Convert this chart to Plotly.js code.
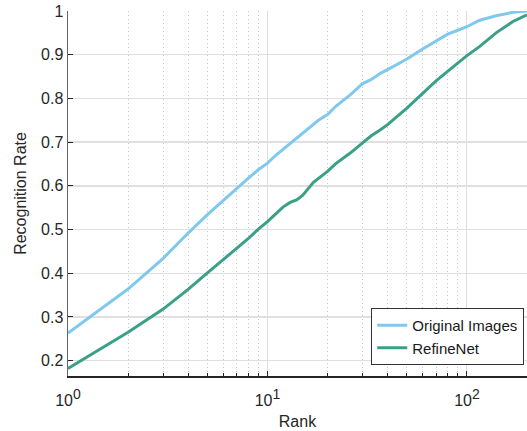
<!DOCTYPE html>
<html>
<head>
<meta charset="utf-8">
<script src="https://cdn.plot.ly/plotly-3.0.1.min.js"></script>
<style>html,body{margin:0;padding:0;background:#fff;}#chart{width:527px;height:431px;}</style>
</head>
<body>
<div id="chart"></div>
<script>
// Data
const origRanks = [1,2,3,4,5,6,7,8,9,10,11,12,14,15,18,20,22,26,30,33,37,40,50,60,70,80,90,100,116,140,170,200];
const origRate  = [0.263,0.364,0.434,0.492,0.534,0.567,0.595,0.617,0.637,0.652,0.670,0.684,0.709,0.722,0.750,0.763,0.782,0.808,0.834,0.843,0.858,0.866,0.890,0.913,0.931,0.947,0.956,0.964,0.979,0.989,0.997,1.0];

const refineRanks = [1,2,3,4,5,6,7,8,9,10,11,12,13,14,15,17,20,22,26,30,33,37,40,50,60,70,80,90,100,116,140,170,200];
const refineRate  = [0.182,0.265,0.318,0.363,0.401,0.431,0.457,0.479,0.501,0.518,0.536,0.552,0.562,0.568,0.578,0.608,0.633,0.651,0.675,0.698,0.714,0.729,0.740,0.778,0.812,0.840,0.862,0.881,0.898,0.919,0.950,0.976,0.991];

const seriesNames = ['Original Images','RefineNet'];
const xTickVals = [1,10,100];
const xTickText = ['10<sup><span style="font-size:14px">0</span></sup>','10<sup><span style="font-size:14px">1</span></sup>','10<sup><span style="font-size:14px">2</span></sup>'];
const xMinorVals = [2,3,4,5,6,7,8,9,20,30,40,50,60,70,80,90,200];
const yTickVals = [0.2,0.3,0.4,0.5,0.6,0.7,0.8,0.9,1];
const yTickText = ['0.2','0.3','0.4','0.5','0.6','0.7','0.8','0.9','1'];

const FONT = 'Liberation Sans, Arial, Helvetica, sans-serif';
const TXT = '#262626';

const traces = [
  {x: origRanks, y: origRate, name: seriesNames[0], type: 'scatter', mode: 'lines',
   line: {color: '#7fc8ee', width: 3}},
  {x: refineRanks, y: refineRate, name: seriesNames[1], type: 'scatter', mode: 'lines',
   line: {color: '#3ba088', width: 3}}
];

const layout = {
  width: 527, height: 431,
  margin: {l: 68, r: 0, t: 11, b: 55},
  paper_bgcolor: '#fff', plot_bgcolor: '#fff',
  font: {family: FONT, size: 16, color: TXT},
  showlegend: true,
  legend: {x: 0.994, xanchor: 'right', y: 0.03, yanchor: 'bottom',
           bordercolor: '#333', borderwidth: 1, bgcolor: '#fff',
           font: {family: FONT, size: 15, color: '#1a1a1a'}, tracegroupgap: 0},
  xaxis: {
    type: 'log', range: [0, Math.log10(200)],
    tickvals: xTickVals, ticktext: xTickText,
    ticks: 'inside', ticklen: 5, tickcolor: '#262626',
    ticklabelstandoff: 9,
    showline: true, linecolor: '#262626', linewidth: 1.5, mirror: false,
    showgrid: true, gridcolor: '#dedede', gridwidth: 1,
    zeroline: false,
    minor: {tickvals: xMinorVals, ticks: 'inside', ticklen: 3, tickcolor: '#262626',
            showgrid: true, gridcolor: '#c4c4c4', griddash: '1px,3px', gridwidth: 1},
    title: {text: 'Rank', font: {family: FONT, size: 16, color: TXT}, standoff: 8},
    tickfont: {family: FONT, size: 16, color: TXT}
  },
  yaxis: {
    range: [0.165, 1.0],
    tickvals: yTickVals, ticktext: yTickText,
    ticks: 'inside', ticklen: 5, tickcolor: '#262626',
    ticklabelstandoff: 0,
    showline: true, linecolor: '#666', linewidth: 1.5,
    showgrid: true, gridcolor: '#e0e0e0', gridwidth: 1.5,
    zeroline: false,
    title: {text: 'Recognition Rate', font: {family: FONT, size: 16, color: TXT}, standoff: 10},
    tickfont: {family: FONT, size: 16, color: TXT}
  }
};

Plotly.newPlot('chart', traces, layout, {displayModeBar: false, staticPlot: true});
</script>
</body>
</html>
